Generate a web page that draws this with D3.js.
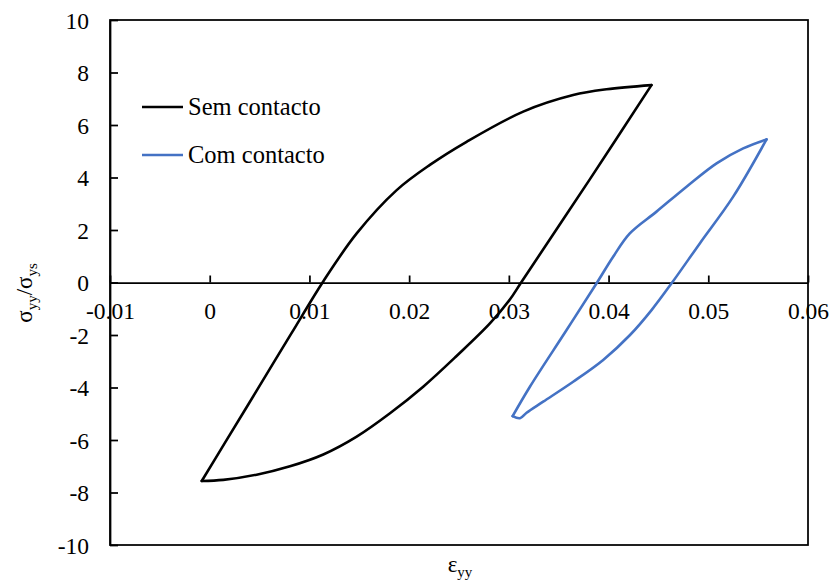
<!DOCTYPE html>
<html>
<head>
<meta charset="utf-8">
<script src="https://cdn.jsdelivr.net/npm/d3@7"></script>
<style>
  html, body { margin: 0; padding: 0; background: #fff; }
  svg { display: block; }
</style>
</head>
<body>
<svg id="chart" width="834" height="588"></svg>
<script>
// Hysteresis loops: normalised stress vs strain, with and without contact
const seriesNames = ["Sem contacto", "Com contacto"];
const seriesColors = ["#000000", "#4472C4"];

const semStrain = [-0.0008, 0.00149, 0.00474, 0.00819, 0.0114, 0.01474, 0.01875, 0.02208, 0.02576, 0.03144, 0.03645, 0.0398, 0.0443,
                   0.0381, 0.03128, 0.0301, 0.0281, 0.02476, 0.02141, 0.01808, 0.01474, 0.01139, 0.00805, 0.00471, 0.00136, -0.0008];
const semStress = [-7.56, -6.13, -4.10, -1.94, 0.05, 1.87, 3.52, 4.48, 5.36, 6.51, 7.14, 7.36, 7.52,
                   3.92, 0.03, -0.65, -1.56, -2.80, -3.97, -4.98, -5.87, -6.55, -7.00, -7.32, -7.52, -7.56];

const comStrain = [0.03038, 0.03211, 0.03579, 0.0388, 0.04046, 0.04213, 0.04481, 0.04782, 0.05083, 0.0535, 0.05584,
                   0.0525, 0.04915, 0.04632, 0.04431, 0.04215, 0.03946, 0.03645, 0.03344, 0.03178, 0.03111, 0.03038];
const comStress = [-5.09, -3.97, -1.81, -0.03, 0.98, 1.87, 2.70, 3.65, 4.54, 5.11, 5.45,
                   3.27, 1.49, -0.03, -1.05, -2.00, -2.95, -3.78, -4.54, -4.96, -5.17, -5.09];

const xTicks = [-0.01, 0, 0.01, 0.02, 0.03, 0.04, 0.05, 0.06];
const yTicks = [-10, -8, -6, -4, -2, 0, 2, 4, 6, 8, 10];

const FONT = '"Liberation Serif", "Times New Roman", Times, serif';

const svg = d3.select("#chart").style("font-family", FONT);
const plotLeft = 110, plotRight = 808, plotTop = 20, plotBottom = 545;

const x = d3.scaleLinear().domain([-0.01, 0.06]).range([plotLeft, plotRight]);
const y = d3.scaleLinear().domain([-10, 10]).range([plotBottom, plotTop]);

const fmt = d => (d === 0 ? "0" : String(+d.toFixed(2)));

// plot frame
svg.append("rect")
  .attr("x", plotLeft).attr("y", plotTop)
  .attr("width", plotRight - plotLeft).attr("height", plotBottom - plotTop)
  .attr("fill", "none").attr("stroke", "#000").attr("stroke-width", 1.75);

// y axis, ticks pointing inward
const gy = svg.append("g")
  .attr("transform", `translate(${plotLeft},0)`)
  .call(d3.axisLeft(y).tickValues(yTicks).tickFormat(fmt)
        .tickSizeInner(-8).tickSizeOuter(0).tickPadding(21));
gy.select(".domain").attr("stroke-width", 1.75);
gy.selectAll(".tick line").attr("stroke-width", 1.75);
gy.selectAll(".tick text")
  .style("font-family", FONT).style("font-size", "23.5px")
  .attr("fill", "#000").attr("dy", "0.34em");

// x axis along zero stress, ticks pointing up
const gx = svg.append("g")
  .attr("transform", `translate(0,${y(0)})`)
  .call(d3.axisBottom(x).tickValues(xTicks).tickFormat(fmt)
        .tickSizeInner(-7).tickSizeOuter(0).tickPadding(20));
gx.select(".domain").attr("stroke-width", 1.75);
gx.selectAll(".tick line").attr("stroke-width", 1.75);
gx.selectAll(".tick text")
  .style("font-family", FONT).style("font-size", "23.5px")
  .attr("fill", "#000").attr("dy", "0.71em");

// loops: each branch drawn separately so the reversal points stay sharp
const series = [
  { name: seriesNames[0], color: seriesColors[0], pts: semStrain.map((s, i) => [s, semStress[i]]) },
  { name: seriesNames[1], color: seriesColors[1], pts: comStrain.map((s, i) => [s, comStress[i]]) }
];

const line = d3.line()
  .x(d => x(d[0])).y(d => y(d[1]))
  .curve(d3.curveCatmullRom.alpha(0.5));

series.forEach(s => {
  const tip = d3.maxIndex(s.pts, d => d[0]);
  [s.pts.slice(0, tip + 1), s.pts.slice(tip)].forEach(branch => {
    svg.append("path")
      .attr("d", line(branch))
      .attr("fill", "none")
      .attr("stroke", s.color)
      .attr("stroke-width", 2.6)
      .attr("stroke-linejoin", "round")
      .attr("stroke-linecap", "round");
  });
});

// legend
const legend = svg.append("g");
series.forEach((s, i) => {
  const ly = 107 + i * 48;
  legend.append("line")
    .attr("x1", 142).attr("x2", 183).attr("y1", ly).attr("y2", ly)
    .attr("stroke", s.color).attr("stroke-width", 2.6);
  legend.append("text")
    .attr("x", 188).attr("y", ly + 7.5)
    .style("font-family", FONT).style("font-size", "24.5px")
    .text(s.name);
});

// axis titles
const xt = svg.append("text")
  .attr("x", 460).attr("y", 572)
  .attr("text-anchor", "middle")
  .style("font-family", FONT).style("font-size", "23px");
xt.append("tspan").text("ε");
xt.append("tspan").style("font-size", "15px").attr("dy", 5).text("yy");

const yt = svg.append("text")
  .attr("transform", "translate(32,293) rotate(-90)")
  .attr("text-anchor", "middle")
  .style("font-family", FONT).style("font-size", "23px");
yt.append("tspan").text("σ");
yt.append("tspan").style("font-size", "15px").attr("dy", 5).text("yy");
yt.append("tspan").attr("dy", -5).text("/σ");
yt.append("tspan").style("font-size", "15px").attr("dy", 5).text("ys");
</script>
</body>
</html>
